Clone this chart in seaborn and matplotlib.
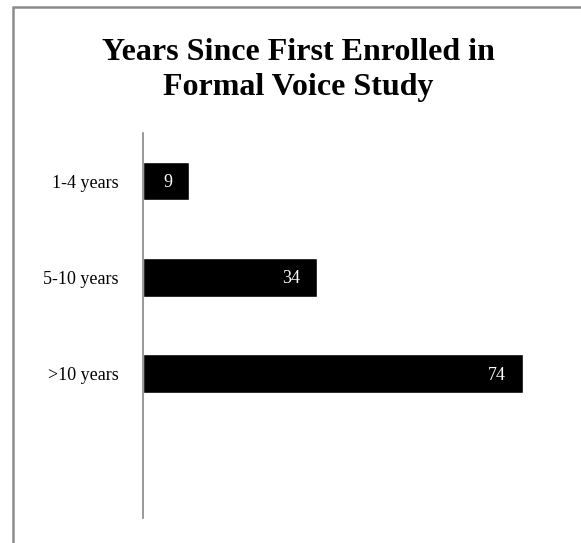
import matplotlib
matplotlib.use("Agg")
import matplotlib.pyplot as plt
import matplotlib.patches as patches
import seaborn as sns
import pandas as pd

# Data
categories = ["1-4 years", "5-10 years", ">10 years"]
counts = [9, 34, 74]
title = "Years Since First Enrolled in\nFormal Voice Study"

df = pd.DataFrame({"years": categories, "count": counts})

sns.set_style("white")
plt.rcParams['font.family'] = ['Liberation Serif', 'DejaVu Serif']
plt.rcParams['text.color'] = 'black'

W, H = 581, 543
fig = plt.figure(figsize=(W / 100, H / 100), dpi=100)

# axes placed in pixel terms
left, right = 142.5, 142.5 + 80 * 5.14
top, bottom = 133, 518
ax = fig.add_axes([left / W, 1 - bottom / H, (right - left) / W, (bottom - top) / H])

sns.barplot(data=df, x="count", y="years", orient="h", color="black",
            width=0.4, saturation=1, ax=ax, order=categories)

ax.set_xlim(0, 80)
ax.set_ylim(3.5, -0.5)
ax.set_xlabel("")
ax.set_ylabel("")
ax.set_xticks([])
ax.tick_params(axis="y", length=0, pad=17, labelsize=13, labelcolor="black")
for s in ["top", "right", "bottom"]:
    ax.spines[s].set_visible(False)
ax.spines["left"].set_color("#888888")
ax.spines["left"].set_linewidth(1.2)

# value labels inside bar ends
for i, v in enumerate(counts):
    ax.annotate(str(v), xy=(v, i), xytext=(-12, -1), textcoords="offset points",
                ha="right", va="center", color="white", fontsize=13)

fig.text(298 / W, 1 - 70 / H, title, ha="center", va="center", color="black",
         fontsize=23, fontweight="bold", linespacing=1.3)

# gray frame (only top and left visible in the crop)
fig.patches.append(patches.Rectangle((12.5 / W, -0.5), 1.5, 0.5 + 1 - 7 / H,
                                     transform=fig.transFigure, fill=False,
                                     edgecolor="#8c8c8c", linewidth=1.8))

fig.savefig("out.png", dpi=100)
